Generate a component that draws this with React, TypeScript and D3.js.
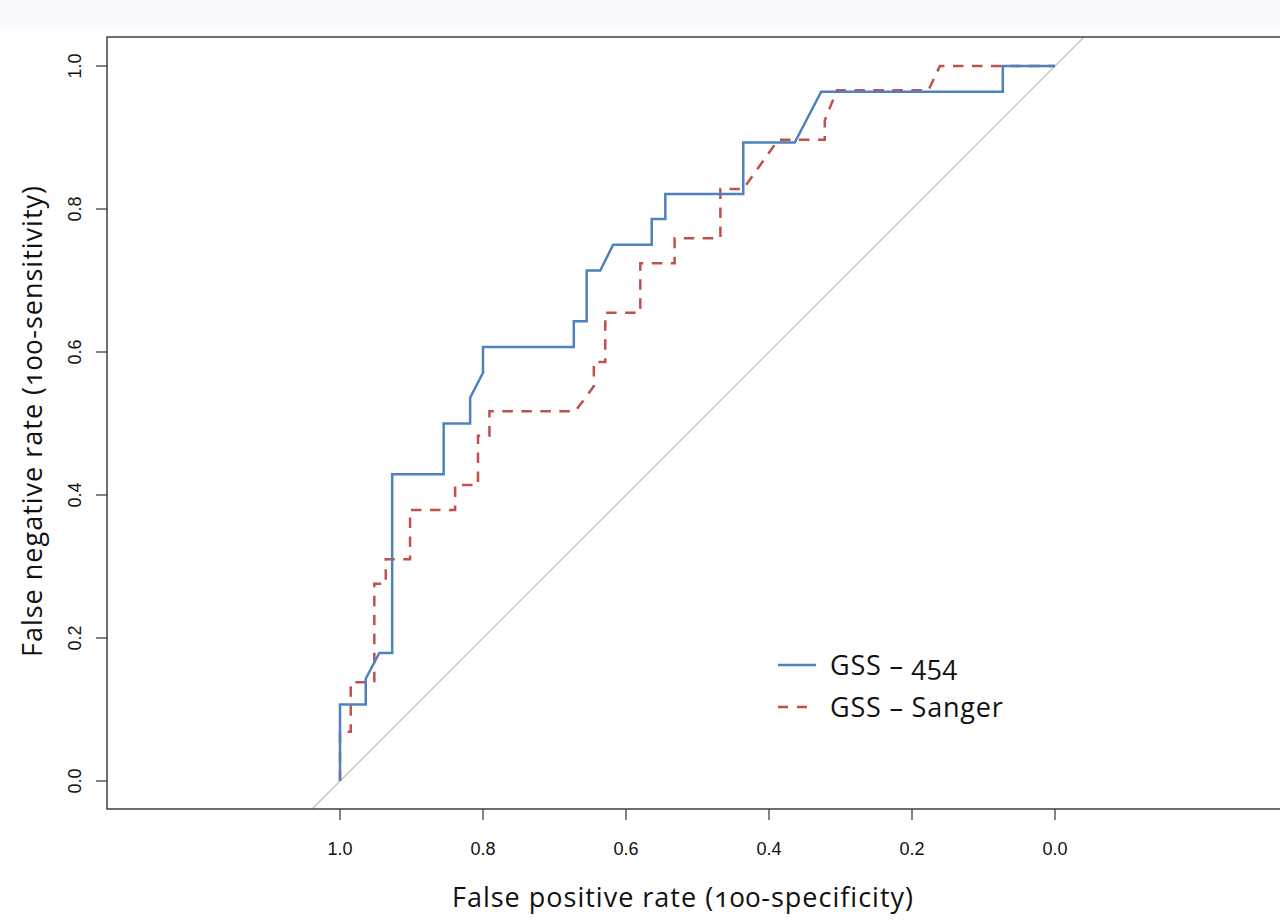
import React from "react";
import * as d3 from "d3";

// GSS-454 ROC curve (specificity, sensitivity)
const spec454 = [1.0, 1.0, 0.964, 0.964, 0.945, 0.927, 0.927, 0.855, 0.855, 0.818, 0.818, 0.8, 0.8, 0.673, 0.673, 0.655, 0.655, 0.636, 0.618, 0.564, 0.564, 0.545, 0.545, 0.436, 0.436, 0.364, 0.327, 0.073, 0.073, 0.0];
const sens454 = [0.0, 0.107, 0.107, 0.143, 0.179, 0.179, 0.429, 0.429, 0.5, 0.5, 0.536, 0.571, 0.607, 0.607, 0.643, 0.643, 0.714, 0.714, 0.75, 0.75, 0.786, 0.786, 0.821, 0.821, 0.893, 0.893, 0.964, 0.964, 1.0, 1.0];

// GSS-Sanger ROC curve
const specSanger = [1.0, 1.0, 0.985, 0.985, 0.952, 0.952, 0.936, 0.936, 0.902, 0.902, 0.839, 0.839, 0.807, 0.807, 0.791, 0.791, 0.671, 0.645, 0.645, 0.629, 0.629, 0.58, 0.58, 0.532, 0.532, 0.468, 0.468, 0.436, 0.387, 0.322, 0.322, 0.305, 0.177, 0.161, 0.0];
const sensSanger = [0.0, 0.069, 0.069, 0.138, 0.138, 0.276, 0.276, 0.31, 0.31, 0.379, 0.379, 0.414, 0.414, 0.483, 0.483, 0.517, 0.517, 0.552, 0.586, 0.586, 0.655, 0.655, 0.724, 0.724, 0.759, 0.759, 0.828, 0.828, 0.897, 0.897, 0.924, 0.966, 0.966, 1.0, 1.0];

const tickValues = [1.0, 0.8, 0.6, 0.4, 0.2, 0.0];
const legendLabels = ["GSS \u2013 454", "GSS \u2013 Sanger"];

const W = 1280;
const H = 920;
const box = { left: 107, top: 37, right: 1290, bottom: 809 };

const blue = "#4f81bd";
const red = "#c0504d";
const tickFont = "'Liberation Sans Narrow', 'Liberation Sans', Arial, sans-serif";
const titleFont = "'Open Sans', 'Noto Sans', sans-serif";

export default function App() {
  const x = d3.scaleLinear().domain([1, 0]).range([340, 1055]);
  const y = d3.scaleLinear().domain([0, 1]).range([781, 66]);

  const line = d3
    .line<[number, number]>()
    .x((d) => x(d[0]))
    .y((d) => y(d[1]));

  const pts454 = spec454.map((s, i) => [s, sens454[i]] as [number, number]);
  const ptsSanger = specSanger.map((s, i) => [s, sensSanger[i]] as [number, number]);

  // reference diagonal sens = 1 - spec, clipped to the box
  const sLow = y.invert(box.bottom);
  const sHigh = y.invert(box.top);
  const diag: [number, number][] = [
    [1 - sLow, sLow],
    [1 - sHigh, sHigh],
  ];

  const fmt = d3.format(".1f");
  const onum = { fontVariantNumeric: "oldstyle-nums" } as React.CSSProperties;

  return (
    <svg
      width={W}
      height={H}
      style={{ position: "absolute", left: 0, top: 0, background: "#fff" }}
    >
      <rect x={0} y={0} width={W} height={29} fill="#f8fafd" />
      <defs>
        <clipPath id="plotclip">
          <rect x={box.left} y={box.top} width={box.right - box.left} height={box.bottom - box.top} />
        </clipPath>
      </defs>

      <g clipPath="url(#plotclip)">
        <path d={line(diag) || ""} fill="none" stroke="#bdbdbd" strokeWidth={1.2} />
        <path d={line(ptsSanger) || ""} fill="none" stroke={red} strokeWidth={2.5} strokeDasharray="10.5 8.5" />
        <path d={line(pts454) || ""} fill="none" stroke={blue} strokeWidth={2.5} />
      </g>

      <rect
        x={box.left}
        y={box.top}
        width={box.right - box.left}
        height={box.bottom - box.top}
        fill="none"
        stroke="#333"
        strokeWidth={1.4}
      />

      {/* x axis */}
      {tickValues.map((t) => (
        <g key={"x" + t}>
          <line x1={x(t)} x2={x(t)} y1={box.bottom} y2={box.bottom + 11} stroke="#333" strokeWidth={1.2} />
          <text x={x(t)} y={855} textAnchor="middle" fontFamily={tickFont} fontSize={18} fill="#111">
            {fmt(t)}
          </text>
        </g>
      ))}

      {/* y axis */}
      {tickValues.map((t) => (
        <g key={"y" + t}>
          <line x1={box.left - 11} x2={box.left} y1={y(t)} y2={y(t)} stroke="#333" strokeWidth={1.2} />
          <text
            transform={`translate(81,${y(t)}) rotate(-90)`}
            textAnchor="middle"
            fontFamily={tickFont}
            fontSize={18}
            fill="#111"
          >
            {fmt(t)}
          </text>
        </g>
      ))}

      <text
        x={683}
        y={907}
        textAnchor="middle"
        fontFamily={titleFont}
        fontSize={27}
        letterSpacing={1}
        fill="#111"
        style={onum}
      >
        False positive rate (100-specificity)
      </text>
      <text
        transform={`translate(42,${421}) rotate(-90)`}
        textAnchor="middle"
        fontFamily={titleFont}
        fontSize={27}
        letterSpacing={1}
        fill="#111"
        style={onum}
      >
        False negative rate (100-sensitivity)
      </text>

      {/* legend */}
      <g>
        <line x1={778} x2={816} y1={665} y2={665} stroke={blue} strokeWidth={2.5} />
        <text x={830} y={675} fontFamily={titleFont} fontSize={27} letterSpacing={0.8} fill="#111" style={onum}>
          {legendLabels[0]}
        </text>
        <line x1={778} x2={816} y1={707} y2={707} stroke={red} strokeWidth={2.5} strokeDasharray="10 9" />
        <text x={830} y={717} fontFamily={titleFont} fontSize={27} letterSpacing={0.8} fill="#111">
          {legendLabels[1]}
        </text>
      </g>
    </svg>
  );
}
